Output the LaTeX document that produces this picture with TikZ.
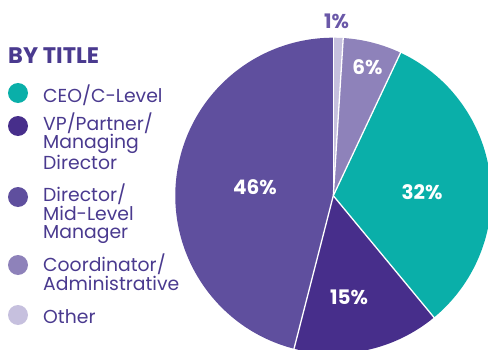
\documentclass[tikz,border=0pt]{standalone}
\usepackage{fontspec}
\setmainfont{Poppins}
\definecolor{ceo}{HTML}{0AAFA9}
\definecolor{vp}{HTML}{472E8B}
\definecolor{dir}{HTML}{5F4F9E}
\definecolor{coord}{HTML}{8E82BA}
\definecolor{other}{HTML}{C6C0DE}
\definecolor{txt}{HTML}{4A3A8F}
\definecolor{onepc}{HTML}{6A58A8}
\tikzset{
  legtext/.style={anchor=base west, inner sep=0pt, align=left, text=txt,
    font=\fontsize{18.8}{17.5}\selectfont},
  dot/.style={circle, inner sep=0pt, minimum size=20pt},
  pielabel/.style={anchor=base, inner sep=0pt, text=white,
    font=\fontsize{20}{20}\selectfont\bfseries},
  sep/.style={white, line width=1.3pt}
}
\begin{document}
\begin{tikzpicture}[x=1pt,y=1pt]
\useasboundingbox (0,0) rectangle (488,349);
\coordinate (O) at (333.3,153.3);
\def\R{158}
% slices
\fill[other] (O) -- ([shift={(O)}]90:\R) arc[start angle=90,end angle=86.4,radius=\R] -- cycle;
\fill[coord] (O) -- ([shift={(O)}]86.4:\R) arc[start angle=86.4,end angle=64.8,radius=\R] -- cycle;
\fill[ceo] (O) -- ([shift={(O)}]64.8:\R) arc[start angle=64.8,end angle=-50.4,radius=\R] -- cycle;
\fill[vp] (O) -- ([shift={(O)}]-50.4:\R) arc[start angle=-50.4,end angle=-104.4,radius=\R] -- cycle;
\fill[dir] (O) -- ([shift={(O)}]-104.4:\R) arc[start angle=-104.4,end angle=-270,radius=\R] -- cycle;
% separators
\foreach \a in {90,86.4,64.8,-50.4,-104.4}
  \draw[sep] (O) -- ([shift={(O)}]\a:\R+1);
% pie labels
\node[pielabel] (l46) at (255,155) {46\%};
\node[pielabel] (l32) at (422,150) {32\%};
\node[pielabel] (l15) at (349,45) {15\%};
\node[pielabel] (l6) at (367.5,274) {6\%};
\node[pielabel, text=onepc] (l1) at (336.5,320) {1\%};
% legend
\node[anchor=base west, inner sep=0pt, text=txt, font=\fontsize{22.5}{22.5}\selectfont\bfseries] (title) at (8,285) {BY TITLE};
\node[dot, fill=ceo] (d1) at (18,256) {};
\node[dot, fill=vp] (d2) at (18,223) {};
\node[dot, fill=dir] (d3) at (18,152) {};
\node[dot, fill=coord] (d4) at (18,84) {};
\node[dot, fill=other] (d5) at (18,34) {};
\node[legtext] (t1) at (43,247) {CEO/C-Level};
\node[legtext] (t2) at (43,180) {VP/Partner/\\Managing\\Director};
\node[legtext] (t3) at (43,111) {Director/\\Mid-Level\\Manager};
\node[legtext] (t4) at (43,59) {Coordinator/\\Administrative};
\node[legtext] (t5) at (43,26) {Other};
\end{tikzpicture}
\end{document}
